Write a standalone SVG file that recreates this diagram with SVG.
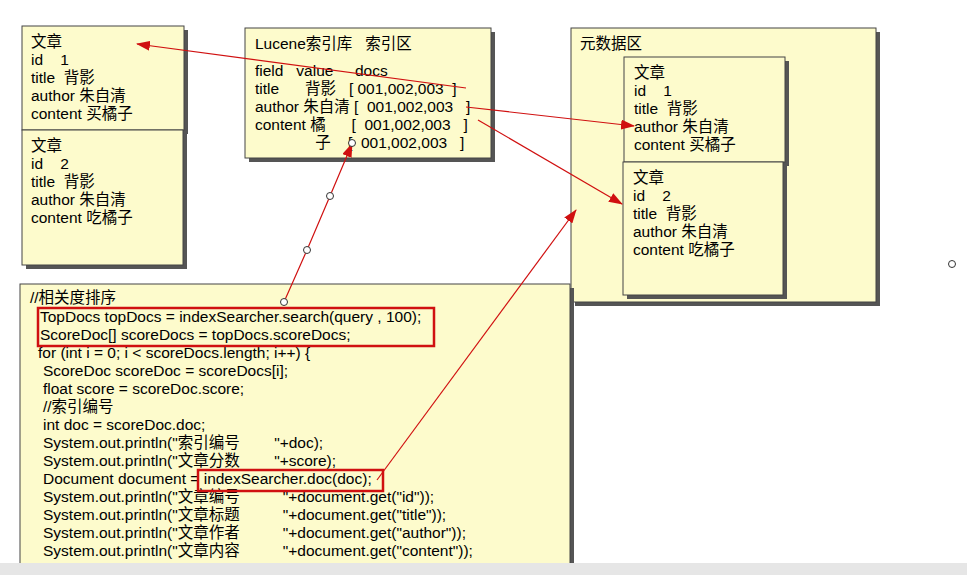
<svg xmlns="http://www.w3.org/2000/svg" width="967" height="575" viewBox="0 0 967 575">
<style>
.b{fill:#fdfbcc;stroke:#444;stroke-width:1}
.s{fill:#555}
text{font-family:"Liberation Sans","Noto Sans CJK SC",sans-serif;font-size:15.5px;fill:#000;white-space:pre}
.c{stroke:#d01010;stroke-width:1.2;fill:none}
.r{fill:none;stroke:#d01010;stroke-width:2.5}
.o{fill:#fff;stroke:#333;stroke-width:1}
</style>
<defs><marker id="a" markerWidth="14" markerHeight="10" refX="13" refY="5" orient="auto" markerUnits="userSpaceOnUse"><path d="M0,0 L14,5 L0,10 z" fill="#d01010"/></marker></defs>
<rect width="967" height="575" fill="#fff"/>
<g id="doc1"><rect class="s" x="26" y="30" width="162" height="104"/><rect class="b" x="22" y="26" width="162" height="104"/>
<text x="31" y="47">文章</text><text x="31" y="65">id    1</text><text x="31" y="83">title  背影</text><text x="31" y="101">author 朱自清</text><text x="31" y="119">content 买橘子</text></g>
<g id="doc2"><rect class="s" x="26" y="134" width="161" height="135"/><rect class="b" x="22" y="130" width="161" height="135"/>
<text x="31" y="151">文章</text><text x="31" y="169">id    2</text><text x="31" y="187">title  背影</text><text x="31" y="205">author 朱自清</text><text x="31" y="223">content 吃橘子</text></g>
<g id="index"><rect class="s" x="249" y="32" width="246" height="130"/><rect class="b" x="245" y="28" width="246" height="130"/>
<text x="255" y="49">Lucene索引库   索引区</text>
<text x="255" y="76">field   value     docs</text>
<text x="255" y="94">title      背影   [ 001,002,003  ]</text>
<text x="255" y="112">author 朱自清 [  001,002,003   ]</text>
<text x="255" y="130">content 橘      [  001,002,003   ]</text>
<text x="255" y="148">              子    [  001,002,003   ]</text></g>
<g id="meta"><rect class="s" x="575" y="32" width="305" height="274"/><rect class="b" x="571" y="28" width="305" height="274"/>
<text x="580" y="49">元数据区</text></g>
<g id="mdoc1"><rect class="s" x="628" y="61" width="161" height="105"/><rect class="b" x="624" y="57" width="161" height="105"/>
<text x="634" y="78">文章</text><text x="634" y="96">id    1</text><text x="634" y="114">title  背影</text><text x="634" y="132">author 朱自清</text><text x="634" y="150">content 买橘子</text></g>
<g id="mdoc2"><rect class="s" x="627" y="166" width="160" height="133"/><rect class="b" x="623" y="162" width="160" height="133"/>
<text x="633" y="183">文章</text><text x="633" y="201">id    2</text><text x="633" y="219">title  背影</text><text x="633" y="237">author 朱自清</text><text x="633" y="255">content 吃橘子</text></g>
<g id="code"><rect class="s" x="24" y="288" width="550" height="280"/><rect class="b" x="20" y="284" width="550" height="285"/>
<text x="30" y="303">//相关度排序</text>
<text x="40" y="322">TopDocs topDocs = indexSearcher.search(query , 100);</text>
<text x="40" y="340">ScoreDoc[] scoreDocs = topDocs.scoreDocs;</text>
<text x="38" y="358">for (int i = 0; i &lt; scoreDocs.length; i++) {</text>
<text x="43" y="376">ScoreDoc scoreDoc = scoreDocs[i];</text>
<text x="43" y="394">float score = scoreDoc.score;</text>
<text x="43" y="412">//索引编号</text>
<text x="43" y="430">int doc = scoreDoc.doc;</text>
<text x="43" y="448">System.out.println("索引编号        "+doc);</text>
<text x="43" y="466">System.out.println("文章分数        "+score);</text>
<text x="43" y="484">Document document = indexSearcher.doc(doc);</text>
<text x="43" y="502">System.out.println("文章编号          "+document.get("id"));</text>
<text x="43" y="520">System.out.println("文章标题          "+document.get("title"));</text>
<text x="43" y="538">System.out.println("文章作者          "+document.get("author"));</text>
<text x="43" y="556">System.out.println("文章内容          "+document.get("content"));</text>
<rect x="0" y="563" width="967" height="12" fill="#e6e6e6"/>
<rect class="r" x="38" y="308" width="396" height="38"/>
<rect class="r" x="198" y="470" width="185" height="21"/></g>
<g id="connectors">
<line class="c" x1="466" y1="88" x2="137" y2="44" marker-end="url(#a)"/>
<line class="c" x1="466" y1="107" x2="634" y2="126" marker-end="url(#a)"/>
<line class="c" x1="478" y1="120" x2="622" y2="204" marker-end="url(#a)"/>
<line class="c" x1="377" y1="480" x2="576" y2="210" marker-end="url(#a)"/>
<polyline class="c" points="284,302 307,250 330,196 352,144" marker-end="url(#a)"/>
<circle class="o" cx="284" cy="302" r="3.5"/><circle class="o" cx="307" cy="250" r="3.5"/><circle class="o" cx="330" cy="196" r="3.5"/><circle class="o" cx="352" cy="143" r="3.5"/>
<circle class="o" cx="952" cy="264" r="3.5"/>
</g>
</svg>
